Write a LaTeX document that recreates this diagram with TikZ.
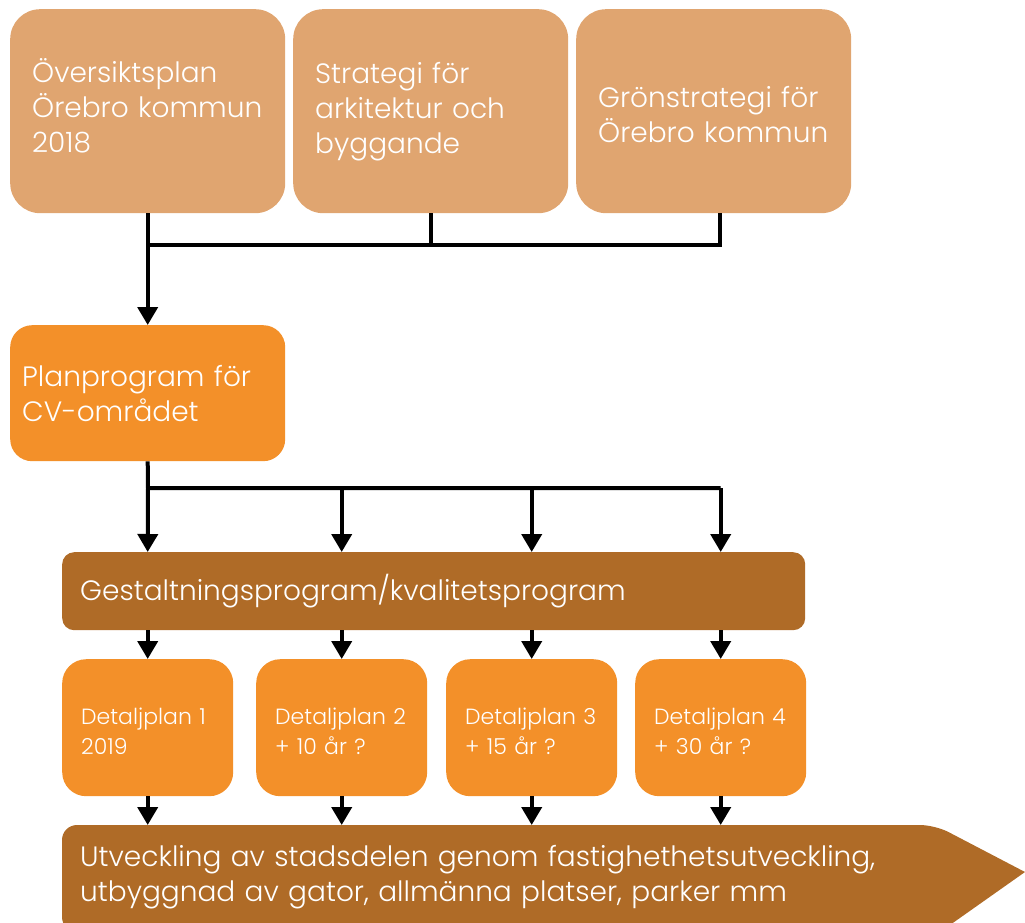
\documentclass[tikz,border=0pt]{standalone}
\usepackage{fontspec}
\setmainfont{Poppins}[UprightFont={* Light}]
\usetikzlibrary{arrows.meta,calc}
\definecolor{tan}{RGB}{224,165,112}
\definecolor{orng}{RGB}{243,144,41}
\definecolor{brwn}{RGB}{175,107,39}
\newcommand{\dn}[1]{\rule[-#1]{0pt}{1pt}}
\newcommand{\up}[1]{\rule{0pt}{#1}}
\begin{document}
\begin{tikzpicture}[x=1pt,y=-1pt,
  box/.style={draw=none,text=white,align=left,inner ysep=0pt,anchor=north west,font=\fontsize{28}{35}\selectfont},
  big/.style={box,fill=tan,rounded corners=30pt,minimum width=275pt,minimum height=204pt,inner xsep=22pt,text width=231pt},
  det/.style={box,fill=orng,rounded corners=24pt,minimum width=171pt,minimum height=137pt,inner xsep=19pt,text width=133pt,font=\fontsize{22}{30}\selectfont},
  ln/.style={line width=4pt},
  arr/.style={ln,-{Triangle[width=20pt,length=18pt]}}]
\useasboundingbox (0,0) rectangle (1025,923);
\node[big] (A) at (10,9) {\smash{Ö}versiktsplan\\Örebro kommun\\2018\dn{9pt}};
\node[big] (B) at (293,9) {Strategi för\\arkitektur och\\byggande};
\node[big] (C) at (576,9) {\up{27pt}Grönstrategi för\\Örebro kommun};
\node[box,fill=orng,rounded corners=22pt,minimum width=275pt,minimum height=136pt,inner xsep=12pt,text width=251pt] (D) at (10,325) {Planprogram för\\CV-området};
\node[box,fill=brwn,rounded corners=12pt,minimum width=743pt,minimum height=78pt,inner xsep=18pt,text width=707pt] (E) at (62,552) {Gestaltningsprogram/kvalitetsprogram};
\node[det] (P1) at (62,659) {\up{23pt}Detaljplan 1\\2019};
\node[det] (P2) at (256,659) {\up{23pt}Detaljplan 2\\+ 10 år ?};
\node[det] (P3) at (446,659) {\up{23pt}Detaljplan 3\\+ 15 år ?};
\node[det] (P4) at (635,659) {\up{23pt}Detaljplan 4\\+ 30 år ?};
\fill[brwn] (935,825) -- (1025,872) -- (940,932) [rounded corners=15pt] -- (62,932) -- (62,825) -- cycle;
\node[box,minimum width=873pt,minimum height=104pt,inner xsep=18pt,text width=837pt] (U) at (62,825) {Utveckling av stadsdelen genom fastighethetsutveckling,\\utbyggnad av gator, allmänna platser, parker mm};
\coordinate (h1) at (148,245);
\coordinate (h2) at (148,488);
\draw[arr] (A.south) -- (D.north);
\draw[ln] (B.south) |- (h1);
\draw[ln] ([xshift=6.5pt]C.south) |- (h1);
\draw[ln] (D.south) -- (h2) -- (h2 -| P4);
\draw[arr] (h2) -- (E.north -| P1);
\draw[arr] (h2 -| P2) -- (E.north -| P2);
\draw[arr] (h2 -| P3) -- (E.north -| P3);
\draw[arr] (h2 -| P4) -- (E.north -| P4);
\foreach \p in {P1,P2,P3,P4} {
  \draw[arr] (E.south -| \p) -- (\p.north);
  \draw[arr] (\p.south) -- (\p.south |- U.north);
}
\end{tikzpicture}
\end{document}
